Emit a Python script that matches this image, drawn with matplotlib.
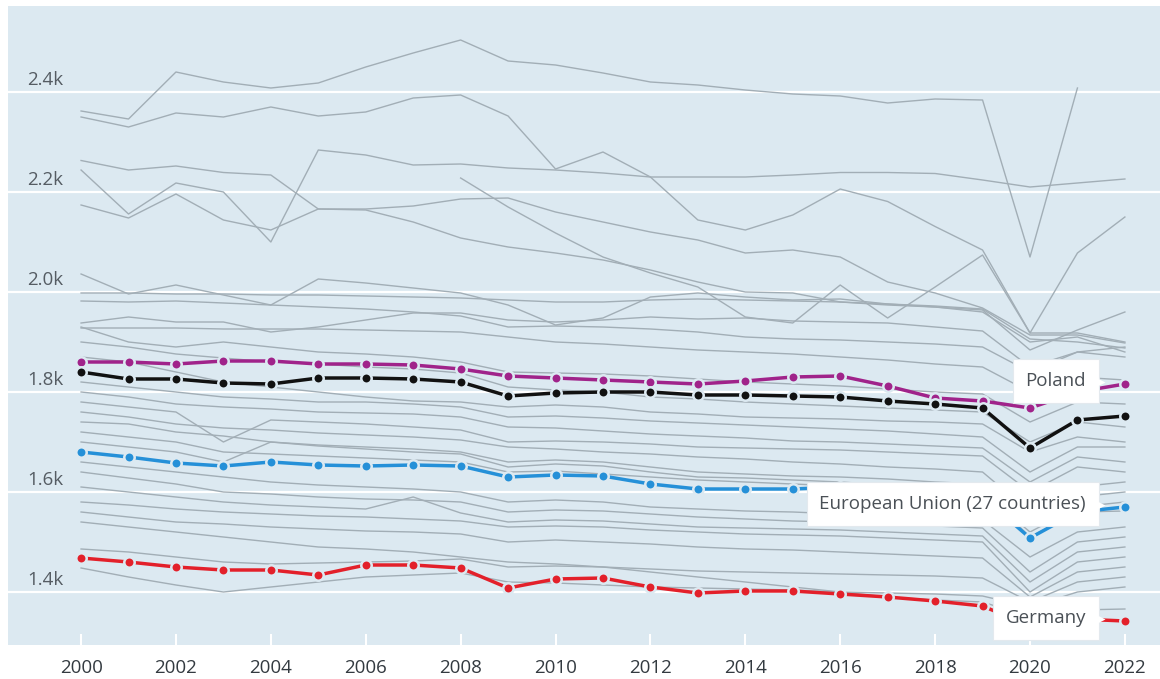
import numpy as np
import matplotlib
matplotlib.use("Agg")
import matplotlib.pyplot as plt
from matplotlib.transforms import ScaledTranslation

nan = np.nan
years = list(range(2000, 2023))

# Highlighted series
poland = [1860, 1860, 1856, 1862, 1862, 1856, 1856, 1854, 1846, 1832, 1828, 1824, 1820, 1816,
          1822, 1830, 1832, 1812, 1788, 1782, 1768, 1800, 1816]
oecd = [1840, 1826, 1826, 1818, 1816, 1828, 1828, 1826, 1820, 1792, 1798, 1800, 1800, 1794,
        1794, 1792, 1790, 1782, 1776, 1768, 1688, 1744, 1752]
eu27 = [1680, 1670, 1658, 1652, 1660, 1654, 1652, 1654, 1652, 1630, 1634, 1632, 1616, 1606,
        1606, 1606, 1610, 1600, 1596, 1590, 1508, 1560, 1570]
germany = [1468, 1460, 1450, 1444, 1444, 1434, 1454, 1454, 1448, 1408, 1426, 1428, 1410, 1398,
           1402, 1402, 1396, 1390, 1382, 1372, 1332, 1346, 1342]

# Other countries (grey)
grey_series = [
    [2362, 2346, 2440, 2420, 2408, 2418, 2450, 2478, 2504, 2462, 2454, 2438, 2420, 2414, 2404, 2396, 2392, 2378, 2386, 2384, 2070, 2408, nan],
    [2350, 2330, 2358, 2350, 2370, 2352, 2360, 2388, 2394, 2352, 2246, 2280, 2230, 2144, 2124, 2154, 2206, 2181, 2131, 2084, 1918, 2078, 2150],
    [2244, 2156, 2218, 2200, 2100, 2284, 2274, 2254, 2256, 2248, 2244, 2238, 2230, 2230, 2230, 2234, 2239, 2239, 2237, 2224, 2210, 2218, 2226],
    [2263, 2244, 2252, 2239, 2234, 2166, 2166, 2172, 2186, 2188, 2160, 2140, 2120, 2104, 2078, 2084, 2070, 2020, 1998, 1968, 1914, 1914, 1898],
    [2174, 2148, 2196, 2144, 2124, 2166, 2164, 2140, 2108, 2090, 2078, 2064, 2044, 2020, 2000, 1998, 1980, 1974, 1970, 1964, 1884, 1924, 1960],
    [nan, nan, nan, nan, nan, nan, nan, nan, 2228, 2170, 2118, 2070, 2038, 2010, 1950, 1938, 2014, 1948, 2010, 2074, 1918, 1918, 1900],
    [2036, 1996, 2014, 1994, 1974, 2026, 2018, 2008, 1998, 1974, 1934, 1948, 1990, 1998, 1990, 1984, 1986, 1976, 1970, 1960, 1900, 1910, 1880],
    [1998, 1998, 1996, 1996, 1994, 1994, 1992, 1990, 1988, 1984, 1980, 1980, 1984, 1986, 1984, 1982, 1980, 1976, 1972, 1966, 1906, 1900, 1888],
    [1982, 1980, 1982, 1978, 1974, 1970, 1966, 1960, 1952, 1930, 1932, 1930, 1926, 1920, 1910, 1906, 1904, 1900, 1896, 1890, 1840, 1880, 1890],
    [1938, 1950, 1940, 1940, 1920, 1930, 1944, 1958, 1958, 1944, 1940, 1944, 1950, 1946, 1948, 1942, 1940, 1938, 1930, 1922, 1850, 1880, 1870],
    [1928, 1928, 1928, 1926, 1926, 1926, 1924, 1922, 1920, 1910, 1900, 1896, 1890, 1884, 1880, 1876, 1870, 1864, 1856, 1850, 1800, 1830, 1824],
    [1930, 1900, 1890, 1900, 1890, 1880, 1876, 1870, 1860, 1840, 1838, 1836, 1832, 1826, 1820, 1816, 1812, 1806, 1800, 1796, 1740, 1780, 1776],
    [1900, 1890, 1876, 1868, 1860, 1856, 1850, 1846, 1838, 1810, 1804, 1800, 1790, 1786, 1780, 1776, 1772, 1768, 1764, 1760, 1700, 1740, 1730],
    [1870, 1860, 1840, 1820, 1810, 1800, 1790, 1782, 1780, 1770, 1774, 1770, 1760, 1756, 1750, 1748, 1746, 1742, 1740, 1736, 1680, 1710, 1700],
    [1820, 1810, 1800, 1790, 1786, 1780, 1780, 1776, 1770, 1750, 1752, 1748, 1742, 1738, 1734, 1730, 1726, 1722, 1716, 1710, 1640, 1690, 1690],
    [1800, 1790, 1776, 1770, 1766, 1760, 1758, 1756, 1750, 1730, 1728, 1722, 1716, 1712, 1708, 1702, 1700, 1696, 1692, 1688, 1620, 1670, 1660],
    [1780, 1770, 1760, 1700, 1744, 1740, 1736, 1730, 1724, 1700, 1702, 1700, 1696, 1690, 1688, 1686, 1684, 1680, 1676, 1672, 1600, 1650, 1640],
    [1760, 1750, 1736, 1728, 1724, 1718, 1714, 1710, 1704, 1690, 1686, 1680, 1676, 1670, 1666, 1660, 1656, 1650, 1646, 1640, 1560, 1610, 1620],
    [1740, 1736, 1720, 1712, 1700, 1694, 1690, 1686, 1680, 1660, 1664, 1660, 1650, 1640, 1636, 1632, 1630, 1626, 1620, 1616, 1540, 1590, 1600],
    [1720, 1710, 1700, 1680, 1676, 1672, 1668, 1664, 1660, 1640, 1642, 1636, 1630, 1624, 1620, 1616, 1612, 1608, 1604, 1600, 1520, 1570, 1580],
    [1700, 1690, 1680, 1660, 1700, 1692, 1686, 1680, 1676, 1650, 1656, 1652, 1640, 1630, 1628, 1624, 1620, 1614, 1610, 1604, 1510, 1560, 1562],
    [1660, 1650, 1640, 1630, 1620, 1614, 1610, 1606, 1600, 1580, 1584, 1580, 1570, 1566, 1562, 1560, 1556, 1552, 1548, 1544, 1470, 1520, 1530],
    [1640, 1628, 1616, 1600, 1596, 1590, 1586, 1584, 1580, 1560, 1564, 1562, 1556, 1550, 1546, 1542, 1540, 1536, 1532, 1528, 1440, 1500, 1510],
    [1610, 1600, 1590, 1580, 1574, 1570, 1566, 1590, 1558, 1540, 1544, 1542, 1536, 1530, 1528, 1526, 1524, 1520, 1516, 1512, 1420, 1480, 1490],
    [1580, 1574, 1566, 1560, 1556, 1552, 1550, 1546, 1542, 1530, 1532, 1530, 1524, 1520, 1516, 1514, 1512, 1508, 1504, 1500, 1400, 1460, 1470],
    [1560, 1550, 1540, 1536, 1530, 1526, 1522, 1520, 1516, 1500, 1504, 1500, 1496, 1490, 1486, 1484, 1480, 1476, 1472, 1468, 1390, 1440, 1450],
    [1486, 1480, 1470, 1460, 1456, 1458, 1460, 1462, 1466, 1450, 1452, 1450, 1446, 1442, 1440, 1438, 1436, 1434, 1432, 1428, 1380, 1420, 1430],
    [1448, 1430, 1414, 1400, 1410, 1420, 1430, 1434, 1438, 1420, 1418, 1414, 1410, 1408, 1406, 1404, 1400, 1398, 1396, 1392, 1370, 1400, 1410],
    [1540, 1530, 1520, 1510, 1500, 1490, 1486, 1480, 1470, 1460, 1456, 1450, 1440, 1430, 1420, 1410, 1400, 1390, 1384, 1380, 1350, 1364, 1366],
]

highlights = [
    ("Poland", poland, "#a0238a", True),
    ("OECD", oecd, "#111111", False),
    ("European Union (27 countries)", eu27, "#2590d8", True),
    ("Germany", germany, "#e3202a", True),
]

BG = "#dce9f1"
GREY = "#a2aeb6"

plt.rcParams["font.family"] = ["Open Sans", "DejaVu Sans"]

fig = plt.figure(figsize=(11.6, 6.79), dpi=100)
fig.patch.set_facecolor("white")
ax = fig.add_axes([8 / 1160, 34 / 679, 1 - 8 / 1160, (645 - 6) / 679])
ax.set_facecolor(BG)

for s in grey_series:
    ax.plot(years, s, color=GREY, lw=1.0, zorder=2)

for name, vals, col, lab in highlights:
    ax.plot(years, vals, color=col, lw=2.5, zorder=4)
    ax.plot(years, vals, ls="none", marker="o", ms=7.5, mfc=col, mec=BG, mew=1.8, zorder=5)

ax.set_xlim(1998.46, 2022.74)
ax.set_ylim(1294, 2572)

yt = [1400, 1600, 1800, 2000, 2200, 2400]
ytl = ["1.4k", "1.6k", "1.8k", "2.0k", "2.2k", "2.4k"]
for v in yt:
    ax.axhline(v, color="white", lw=1.6, zorder=1)
ax.set_yticks([])
for v, t in zip(yt, ytl):
    ax.annotate(t, xy=(0, v), xycoords=("axes fraction", "data"), xytext=(19, 3),
                textcoords="offset pixels", ha="left", va="bottom", fontsize=13.5,
                color="#555c63", zorder=3)

xt = list(range(2000, 2023, 2))
ax.set_xticks(xt)
ax.set_xticklabels([str(x) for x in xt], fontsize=13.5, color="#333a40")
ax.tick_params(axis="x", direction="in", length=8, width=1.5, color="white", pad=10)
for sp in ax.spines.values():
    sp.set_visible(False)

# Labels
for name, vals, col, lab in highlights:
    if not lab:
        continue
    ax.annotate(name, xy=(years[-1], vals[-1]), xytext=(-39, 3), textcoords="offset pixels",
                ha="right", va="center", fontsize=13.5, color="#4a5056", zorder=7,
                bbox=dict(boxstyle="square,pad=0.68", fc="white", ec="#e3e9ee", lw=0.8))
    tr = ax.transData + ScaledTranslation(-25 / 100, 2 / 100, fig.dpi_scale_trans)
    ax.plot([years[-1]], [vals[-1]], marker=">", ms=7, mfc="white", mec="none",
            transform=tr, zorder=7)

fig.savefig("out.png", dpi=100, facecolor="white")
